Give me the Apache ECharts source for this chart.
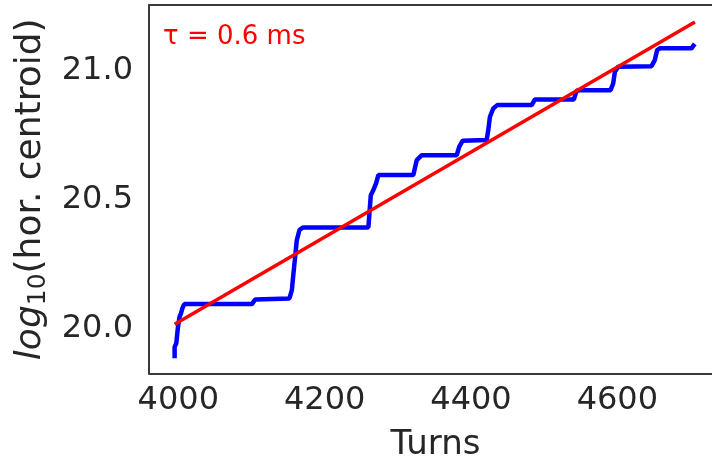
<!DOCTYPE html>
<html>
<head>
<meta charset="utf-8">
<script src="https://cdn.jsdelivr.net/npm/echarts@6/dist/echarts.min.js"></script>
<style>
html,body{margin:0;padding:0;background:#fff;}
#chart{width:712px;height:461px;}
</style>
</head>
<body>
<div id="chart"></div>
<script>
// Data
var centroidTurns = [3995, 3995, 3997.3, 3999.6, 4001.8, 4003.7, 4005.9, 4008.2, 4100.6, 4105.1, 4151.9, 4155.2, 4157.4, 4159.7, 4162.0, 4165.6, 4170.2, 4259.8, 4261.2, 4263.1, 4266.6, 4270.3, 4273.4, 4321.2, 4325.9, 4332.7, 4380.5, 4384.0, 4388.7, 4421.4, 4423.6, 4425.9, 4430.4, 4435.9, 4482.9, 4487.4, 4540.6, 4544.3, 4548.8, 4590.7, 4594.3, 4596.6, 4601.1, 4646.7, 4651.2, 4654.3, 4658.0, 4701.3, 4705.8];
var centroidLog = [19.885, 19.929, 19.943, 20.007, 20.046, 20.059, 20.081, 20.095, 20.095, 20.113, 20.117, 20.149, 20.214, 20.278, 20.343, 20.382, 20.392, 20.392, 20.447, 20.517, 20.537, 20.563, 20.595, 20.595, 20.653, 20.672, 20.672, 20.705, 20.728, 20.731, 20.769, 20.821, 20.853, 20.866, 20.866, 20.888, 20.888, 20.922, 20.924, 20.924, 20.950, 20.995, 21.015, 21.017, 21.041, 21.079, 21.086, 21.086, 21.103];
var fitTurns = [3995, 4706];
var fitLog = [20.017, 21.188];
var xTicks = [4000, 4200, 4400, 4600];
var yTicks = [20.0, 20.5, 21.0];
var annotation = 'τ = 0.6 ms';

function pairs(xs, ys) { return xs.map(function (x, i) { return [x, ys[i]]; }); }

var chart = echarts.init(document.getElementById('chart'), null, {renderer: 'canvas'});
var font = 'DejaVu Sans';
var frame = {show: true, onZero: false, lineStyle: {color: '#3a3a3a', width: 2}};
chart.setOption({
  animation: false,
  backgroundColor: '#ffffff',
  grid: {
    left: 149, top: 5, right: -10, bottom: 87.5,
    containLabel: false, outerBoundsMode: 'none', show: false
  },
  xAxis: [{
    type: 'value', min: 3960, max: 4743, position: 'bottom',
    name: 'Turns', nameLocation: 'middle', nameGap: 55,
    nameTextStyle: {fontFamily: font, fontSize: 34, color: '#262626'},
    axisLine: frame, axisTick: {show: false}, splitLine: {show: false},
    axisLabel: {customValues: xTicks, fontFamily: font, fontSize: 32, color: '#262626', margin: 11,
      formatter: function (v) { return String(Math.round(v)); }}
  }, {
    type: 'value', min: 3960, max: 4743, position: 'top',
    axisLine: frame, axisTick: {show: false}, splitLine: {show: false}, axisLabel: {show: false}
  }],
  yAxis: {
    type: 'value', min: 19.826, max: 21.254,
    name: '{i|log}{s|10}{n|(hor. centroid)}', nameLocation: 'middle', nameGap: 95,
    nameTextStyle: {
      fontFamily: font, fontSize: 36, color: '#262626',
      rich: {
        i: {fontFamily: font, fontSize: 36, fontStyle: 'italic', color: '#262626'},
        s: {fontFamily: font, fontSize: 25, color: '#262626', padding: [15, 0, 0, 0]},
        n: {fontFamily: font, fontSize: 36, color: '#262626'}
      }
    },
    axisLine: frame, axisTick: {show: false}, splitLine: {show: false},
    axisLabel: {customValues: yTicks, fontFamily: font, fontSize: 32, color: '#262626', margin: 16,
      formatter: function (v) { return v.toFixed(1); }}
  },
  graphic: [{
    type: 'text', left: 163, top: 24,
    style: {text: annotation, fontFamily: font, fontSize: 26, fill: '#ff0000'}
  }],
  series: [
    {type: 'line', data: pairs(centroidTurns, centroidLog), showSymbol: false,
      lineStyle: {color: '#0000ff', width: 4.5}, itemStyle: {color: '#0000ff'}, z: 2},
    {type: 'line', data: pairs(fitTurns, fitLog), showSymbol: false,
      lineStyle: {color: '#ff0000', width: 3.5}, itemStyle: {color: '#ff0000'}, z: 3}
  ]
});
</script>
</body>
</html>
